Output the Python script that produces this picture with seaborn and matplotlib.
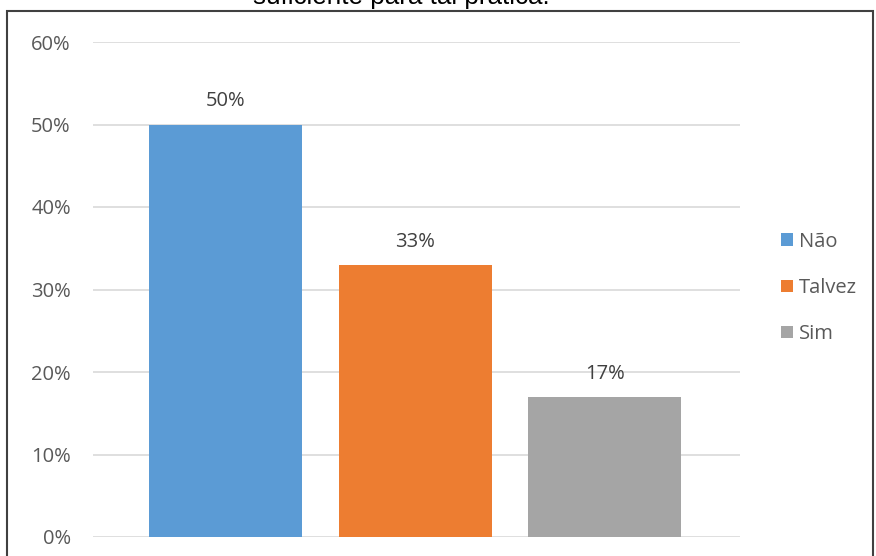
import matplotlib
matplotlib.use("Agg")
import matplotlib.pyplot as plt
import seaborn as sns
import pandas as pd
from matplotlib.patches import Rectangle, Patch

categories = ["Não", "Talvez", "Sim"]
values = [0.50, 0.33, 0.17]
labels = ["50%", "33%", "17%"]
yticks = [0, 0.1, 0.2, 0.3, 0.4, 0.5, 0.6]
ytick_labels = ["0%", "10%", "20%", "30%", "40%", "50%", "60%"]
colors = ["#5B9BD5", "#ED7D31", "#A5A5A5"]
title_tail = "suficiente para tal prática."

sns.set_style("white")
plt.rcParams["font.family"] = ["Open Sans", "DejaVu Sans"]

FS = 14.5

df = pd.DataFrame({"cat": categories, "val": values})

fig = plt.figure(figsize=(8.76, 5.56), dpi=100)
ax = fig.add_axes([93/876, 1-537/556, (740-93)/876, (537-42)/556])
sns.barplot(data=df, x="cat", y="val", hue="cat", palette=colors, dodge=False,
            width=0.806, legend=False, ax=ax, saturation=1, linewidth=0)

ax.set_xlim(-0.698, 2.712)
ax.set_ylim(0, 0.6)
ax.set_yticks(yticks)
ax.set_yticklabels(ytick_labels, color="#595959", fontsize=FS)
ax.set_xticks([])
ax.set_xlabel("")
ax.set_ylabel("")
ax.yaxis.grid(True, color="#d9d9d9", linewidth=1.2)
ax.set_axisbelow(True)
for s in ax.spines.values():
    s.set_visible(False)
ax.tick_params(axis="y", length=0, pad=16)

for i, (v, lab) in enumerate(zip(values, labels)):
    ax.annotate(lab, (i, v), xytext=(0, 13), textcoords="offset points",
                ha="center", va="baseline", fontsize=FS, color="#404040")

handles = [Patch(facecolor=c, edgecolor="none") for c in colors]
leg = fig.legend(handles, categories, loc="center left",
                 bbox_to_anchor=(763/876, 1-288/556), frameon=False,
                 fontsize=FS, labelspacing=1.3, handlelength=0.6,
                 handleheight=0.6, handletextpad=0.3)
for t in leg.get_texts():
    t.set_color("#595959")

fig.patches.append(Rectangle((7/876, -0.05), (873-7)/876, 1.05-11/556,
                             transform=fig.transFigure, fill=False,
                             edgecolor="#404040", linewidth=1.5))

fig.text(401/876, 1-4/556, title_tail, ha="center", va="baseline",
         fontsize=18.7, color="black", family=["Liberation Sans", "DejaVu Sans"])

fig.savefig("out.png", dpi=100)
